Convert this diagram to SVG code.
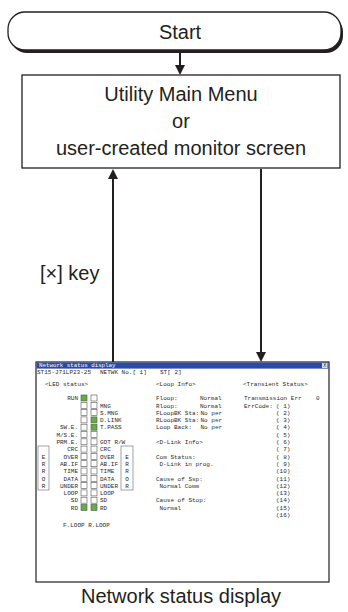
<svg xmlns="http://www.w3.org/2000/svg" width="348" height="612" viewBox="0 0 348 612">
<defs>
<style>
.lbl{font-family:"Liberation Sans",Arial,sans-serif;font-size:20px;fill:#231f20}
.mid{text-anchor:middle}
.ln{stroke:#231f20;stroke-width:2;fill:none}
.box{fill:#fff;stroke:#231f20;stroke-width:1.3}
.scr{font-family:"Liberation Mono","DejaVu Sans Mono",monospace;font-size:6px;fill:#2a2a2a}
.r{text-anchor:end}
.led{fill:#fff;stroke:#555;stroke-width:0.6}
.on{fill:#5fb13b}
.frame{fill:none;stroke:#666;stroke-width:0.6}
.title{font-family:"Liberation Mono","DejaVu Sans Mono",monospace;font-size:5.8px;fill:#fff}
</style>
<marker id="ah" viewBox="0 0 10 10" refX="7" refY="5" markerWidth="5" markerHeight="5" orient="auto" markerUnits="strokeWidth">
<path d="M0,0 L10,5 L0,10 z" fill="#231f20"/>
</marker>
</defs>

<g id="connectors">
<line class="ln" x1="180" y1="53" x2="180" y2="72" marker-end="url(#ah)"/>
<line class="ln" x1="113" y1="362" x2="113" y2="172" marker-end="url(#ah)"/>
<line class="ln" x1="261" y1="169" x2="261" y2="359" marker-end="url(#ah)"/>
<text class="lbl" x="40" y="280">[×] key</text>
</g>

<g id="start">
<rect x="10" y="15" width="333" height="38" rx="17" fill="#231f20"/>
<rect x="8" y="12" width="333" height="38" rx="17" class="box"/>
<text class="lbl mid" x="180" y="39">Start</text>
</g>

<g id="menu">
<rect x="22" y="75" width="318" height="93" class="box"/>
<text class="lbl mid" x="181" y="101">Utility Main Menu</text>
<text class="lbl mid" x="181" y="128">or</text>
<text class="lbl mid" x="181" y="155">user-created monitor screen</text>
</g>

<g id="network-status">
<rect x="36" y="362" width="293" height="220" fill="#fff" stroke="#231f20" stroke-width="1.2"/>
<rect x="36.6" y="362.6" width="291.8" height="6" fill="#2a4aa8"/>
<rect x="322" y="363" width="5.5" height="5" fill="#ddd"/>
<text class="scr" x="323.2" y="367.3" style="font-size:5px">X</text>
<text class="title" x="39" y="367.4">Network status display</text>
<text class="scr" x="37" y="374.2">ST15-J71LP23-25</text>
<text class="scr" x="100" y="374.2">NETWK No.[  1]</text>
<text class="scr" x="160" y="374.2">ST[ 2]</text>

<text class="scr" x="45" y="385.5">&lt;LED status&gt;</text>
<text class="scr" x="156" y="385.5">&lt;Loop Info&gt;</text>
<text class="scr" x="243" y="385.5">&lt;Transient Status&gt;</text>

<g id="leds">
<rect class="led on" x="81" y="395" width="6" height="6"/><rect class="led" x="91" y="395" width="6" height="6"/>
<rect class="led" x="81" y="402.3" width="6" height="6"/><rect class="led" x="91" y="402.3" width="6" height="6"/>
<rect class="led" x="81" y="409.6" width="6" height="6"/><rect class="led" x="91" y="409.6" width="6" height="6"/>
<rect class="led" x="81" y="416.9" width="6" height="6"/><rect class="led on" x="91" y="416.9" width="6" height="6"/>
<rect class="led" x="81" y="424.2" width="6" height="6"/><rect class="led on" x="91" y="424.2" width="6" height="6"/>
<rect class="led" x="81" y="431.5" width="6" height="6"/><rect class="led" x="91" y="431.5" width="6" height="6"/>
<rect class="led" x="81" y="438.8" width="6" height="6"/><rect class="led" x="91" y="438.8" width="6" height="6"/>
<rect class="led" x="81" y="446.1" width="6" height="6"/><rect class="led" x="91" y="446.1" width="6" height="6"/>
<rect class="led" x="81" y="453.4" width="6" height="6"/><rect class="led" x="91" y="453.4" width="6" height="6"/>
<rect class="led" x="81" y="460.7" width="6" height="6"/><rect class="led" x="91" y="460.7" width="6" height="6"/>
<rect class="led" x="81" y="468" width="6" height="6"/><rect class="led" x="91" y="468" width="6" height="6"/>
<rect class="led" x="81" y="475.3" width="6" height="6"/><rect class="led" x="91" y="475.3" width="6" height="6"/>
<rect class="led" x="81" y="482.6" width="6" height="6"/><rect class="led" x="91" y="482.6" width="6" height="6"/>
<rect class="led" x="81" y="489.9" width="6" height="6"/><rect class="led" x="91" y="489.9" width="6" height="6"/>
<rect class="led" x="81" y="497.2" width="6" height="6"/><rect class="led" x="91" y="497.2" width="6" height="6"/>
<rect class="led on" x="81" y="504.5" width="6" height="6"/><rect class="led on" x="91" y="504.5" width="6" height="6"/>
</g>

<text class="scr r" x="78" y="400.2">RUN</text>
<text class="scr r" x="78" y="429.4">SW.E.</text>
<text class="scr r" x="78" y="436.7">M/S.E.</text>
<text class="scr r" x="78" y="444">PRM.E.</text>
<text class="scr r" x="78" y="451.3">CRC</text>
<text class="scr r" x="78" y="458.6">OVER</text>
<text class="scr r" x="78" y="465.9">AB.IF</text>
<text class="scr r" x="78" y="473.2">TIME</text>
<text class="scr r" x="78" y="480.5">DATA</text>
<text class="scr r" x="78" y="487.8">UNDER</text>
<text class="scr r" x="78" y="495.1">LOOP</text>
<text class="scr r" x="78" y="502.4">SD</text>
<text class="scr r" x="78" y="509.7">RD</text>

<text class="scr" x="100" y="407.5">MNG</text>
<text class="scr" x="100" y="414.8">S.MNG</text>
<text class="scr" x="100" y="422.1">D.LINK</text>
<text class="scr" x="100" y="429.4">T.PASS</text>
<text class="scr" x="100" y="444">GOT R/W</text>
<text class="scr" x="100" y="451.3">CRC</text>
<text class="scr" x="100" y="458.6">OVER</text>
<text class="scr" x="100" y="465.9">AB.IF</text>
<text class="scr" x="100" y="473.2">TIME</text>
<text class="scr" x="100" y="480.5">DATA</text>
<text class="scr" x="100" y="487.8">UNDER</text>
<text class="scr" x="100" y="495.1">LOOP</text>
<text class="scr" x="100" y="502.4">SD</text>
<text class="scr" x="100" y="509.7">RD</text>

<text class="scr" x="63" y="527">F.LOOP R.LOOP</text>

<rect class="frame" x="38" y="446" width="11" height="44"/>
<rect class="frame" x="121" y="446" width="12" height="44"/>
<g class="scr" text-anchor="middle">
<text x="43.5" y="458.6">E</text><text x="43.5" y="465.9">R</text><text x="43.5" y="473.2">R</text><text x="43.5" y="480.5">O</text><text x="43.5" y="487.8">R</text>
<text x="127" y="458.6">E</text><text x="127" y="465.9">R</text><text x="127" y="473.2">R</text><text x="127" y="480.5">O</text><text x="127" y="487.8">R</text>
</g>

<text class="scr" x="156" y="400.2">Floop:</text><text class="scr" x="200" y="400.2">Normal</text>
<text class="scr" x="156" y="407.5">Rloop:</text><text class="scr" x="200" y="407.5">Normal</text>
<text class="scr" x="156" y="414.8">FLoopBK Sta:</text><text class="scr" x="200.5" y="414.8">No per</text>
<text class="scr" x="156" y="422.1">RLoopBK Sta:</text><text class="scr" x="200.5" y="422.1">No per</text>
<text class="scr" x="156" y="429.4">Loop Back:</text><text class="scr" x="200.5" y="429.4">No per</text>
<text class="scr" x="156" y="444">&lt;D-Link Info&gt;</text>
<text class="scr" x="156" y="458.6">Com Status:</text>
<text class="scr" x="159.5" y="465.9">D-Link in prog.</text>
<text class="scr" x="156" y="480.5">Cause of Ssp:</text>
<text class="scr" x="159.5" y="487.8">Normal Comm</text>
<text class="scr" x="156" y="502.4">Cause of Stop:</text>
<text class="scr" x="159.5" y="509.7">Normal</text>

<text class="scr" x="244" y="400.2">Transmission Err</text><text class="scr" x="316" y="400.2">0</text>
<text class="scr" x="244" y="407.5">ErrCode:</text>
<text class="scr" x="276" y="407.5">( 1)</text>
<text class="scr" x="276" y="414.8">( 2)</text>
<text class="scr" x="276" y="422.1">( 3)</text>
<text class="scr" x="276" y="429.4">( 4)</text>
<text class="scr" x="276" y="436.7">( 5)</text>
<text class="scr" x="276" y="444">( 6)</text>
<text class="scr" x="276" y="451.3">( 7)</text>
<text class="scr" x="276" y="458.6">( 8)</text>
<text class="scr" x="276" y="465.9">( 9)</text>
<text class="scr" x="276" y="473.2">(10)</text>
<text class="scr" x="276" y="480.5">(11)</text>
<text class="scr" x="276" y="487.8">(12)</text>
<text class="scr" x="276" y="495.1">(13)</text>
<text class="scr" x="276" y="502.4">(14)</text>
<text class="scr" x="276" y="509.7">(15)</text>
<text class="scr" x="276" y="517">(16)</text>
</g>

<g id="caption">
<text class="lbl mid" x="181" y="603">Network status display</text>
</g>
</svg>
